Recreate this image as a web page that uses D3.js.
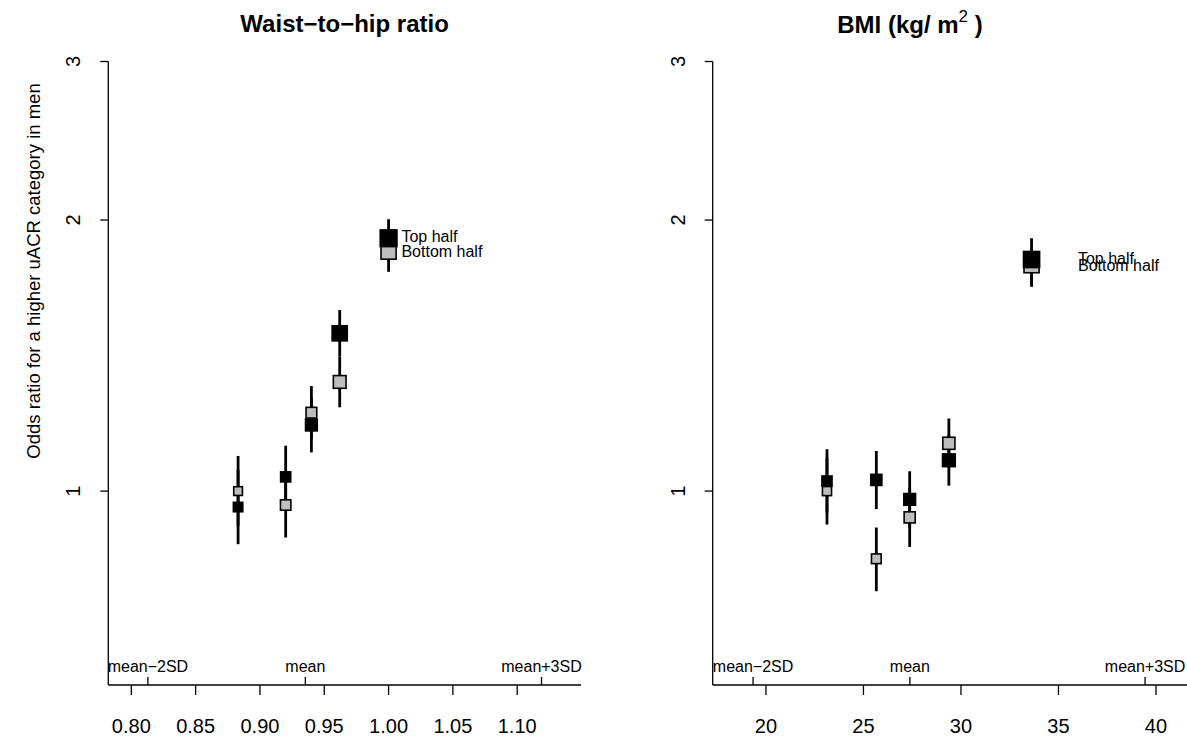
<!DOCTYPE html>
<html>
<head>
<meta charset="utf-8">
<script src="https://cdn.jsdelivr.net/npm/d3@7"></script>
<style>
  body { margin: 0; background: #fff; }
  svg { font-family: "Liberation Sans", Arial, Helvetica, sans-serif; }
</style>
</head>
<body>
<div id="chart"></div>
<script>
// ---- data ----
// waist-to-hip ratio panel
const waistX = [0.883, 0.920, 0.940, 0.962, 1.000];
const waistTopOR = [0.960, 1.037, 1.184, 1.497, 1.909];
const waistTopLo = [0.873, 0.958, 1.104, 1.410, 1.820];
const waistTopHi = [1.056, 1.123, 1.270, 1.589, 2.004];
const waistTopW  = [1.10, 1.17, 1.33, 1.67, 1.83];
const waistBotOR = [1.000, 0.965, 1.222, 1.322, 1.845];
const waistBotLo = [0.914, 0.888, 1.142, 1.239, 1.752];
const waistBotHi = [1.094, 1.048, 1.308, 1.410, 1.925];
const waistBotW  = [1.03, 1.20, 1.23, 1.43, 1.67];
const waistTicks = [0.80, 0.85, 0.90, 0.95, 1.00, 1.05, 1.10];
const waistMean = 0.9353, waistSD = 0.0612;

// BMI panel
const bmiX = [23.13, 25.66, 27.37, 29.38, 33.62];
const bmiTopOR = [1.026, 1.029, 0.979, 1.082, 1.808];
const bmiTopLo = [0.946, 0.955, 0.911, 1.014, 1.693];
const bmiTopHi = [1.113, 1.108, 1.052, 1.155, 1.909];
const bmiTopW  = [1.17, 1.27, 1.33, 1.43, 1.77];
const bmiBotOR = [1.000, 0.841, 0.935, 1.130, 1.782];
const bmiBotLo = [0.918, 0.774, 0.867, 1.061, 1.686];
const bmiBotHi = [1.090, 0.911, 1.008, 1.204, 1.837];
const bmiBotW  = [1.07, 1.13, 1.27, 1.37, 1.67];
const bmiTicks = [20, 25, 30, 35, 40];
const bmiMean = 27.38, bmiSD = 4.02;

const yTicks = [1, 2, 3];
const sdMarks = [-2, 0, 3];
const sdNames = ["mean\u22122SD", "mean", "mean+3SD"];
const seriesNames = ["Top half", "Bottom half"];

// ---- layout ----
const W = 1187, H = 740;
const svg = d3.select("#chart").append("svg")
  .attr("width", W).attr("height", H);

const axisY = 685;
const y = d3.scaleLog().domain([0.609, 3.19]).range([axisY, 37.5]);
const size = d3.scaleLinear().domain([0, 1]).range([0, 10]);

const panels = [
  { title: "Waist\u2212to\u2212hip ratio", titleX: 344.6, left: 108.3, right: 581,
    domain: [0.7821, 1.1496], ticks: waistTicks, fmt: d3.format(".2f"),
    mean: waistMean, sd: waistSD, labelAt: 1.010,
    xs: waistX,
    top: { or: waistTopOR, lo: waistTopLo, hi: waistTopHi, w: waistTopW },
    bot: { or: waistBotOR, lo: waistBotLo, hi: waistBotHi, w: waistBotW } },
  { title: null, titleX: 910, left: 712.7, right: 1187,
    domain: [17.27, 41.59], ticks: bmiTicks, fmt: d3.format("d"),
    mean: bmiMean, sd: bmiSD, labelAt: 36.0,
    xs: bmiX,
    top: { or: bmiTopOR, lo: bmiTopLo, hi: bmiTopHi, w: bmiTopW },
    bot: { or: bmiBotOR, lo: bmiBotLo, hi: bmiBotHi, w: bmiBotW } }
];

panels.forEach(function(p, pi) {
  const x = d3.scaleLinear().domain(p.domain).range([p.left, p.right]);
  const g = svg.append("g");

  // title
  if (p.title) {
    g.append("text")
      .attr("x", p.titleX).attr("y", 32)
      .attr("text-anchor", "middle")
      .style("font-size", "24px").style("font-weight", "bold")
      .text(p.title);
  } else {
    const t = g.append("text")
      .attr("x", p.titleX).attr("y", 33)
      .attr("text-anchor", "middle")
      .style("font-size", "24px").style("font-weight", "bold");
    t.append("tspan").text("BMI (kg/ m");
    t.append("tspan").attr("dy", -11).style("font-size", "17px").style("font-weight", "normal").text("2");
    t.append("tspan").attr("dy", 11).text(" )");
  }

  // y axis (line from the top tick down to the x axis)
  g.append("line")
    .attr("x1", p.left).attr("x2", p.left)
    .attr("y1", y(3)).attr("y2", axisY)
    .attr("stroke", "#000").attr("stroke-width", 1.3);
  g.selectAll(".ytick").data(yTicks).join("line")
    .attr("x1", p.left - 8).attr("x2", p.left)
    .attr("y1", d => y(d)).attr("y2", d => y(d))
    .attr("stroke", "#000").attr("stroke-width", 1.3);
  g.selectAll(".ylab").data(yTicks).join("text")
    .attr("transform", d => "translate(" + (p.left - 28) + "," + y(d) + ") rotate(-90)")
    .attr("text-anchor", "middle")
    .style("font-size", "20px")
    .text(d => d);

  // x axis
  g.append("line")
    .attr("x1", p.left).attr("x2", p.right)
    .attr("y1", axisY).attr("y2", axisY)
    .attr("stroke", "#000").attr("stroke-width", 1.3);
  g.selectAll(".xtick").data(p.ticks).join("line")
    .attr("x1", d => x(d)).attr("x2", d => x(d))
    .attr("y1", axisY).attr("y2", axisY + 10)
    .attr("stroke", "#000").attr("stroke-width", 1.3);
  g.selectAll(".xlab").data(p.ticks).join("text")
    .attr("x", d => x(d)).attr("y", 733)
    .attr("text-anchor", "middle")
    .style("font-size", "20px")
    .text(d => p.fmt(d));

  // mean / SD marks above the axis
  g.selectAll(".sdtick").data(sdMarks).join("line")
    .attr("x1", d => x(p.mean + d * p.sd)).attr("x2", d => x(p.mean + d * p.sd))
    .attr("y1", axisY).attr("y2", axisY - 8)
    .attr("stroke", "#000").attr("stroke-width", 1.3);
  g.selectAll(".sdlab").data(sdMarks).join("text")
    .attr("x", d => x(p.mean + d * p.sd)).attr("y", 672)
    .attr("text-anchor", "middle")
    .style("font-size", "16px")
    .text((d, i) => sdNames[i]);

  // confidence intervals
  [p.top, p.bot].forEach(function(s) {
    g.selectAll(null).data(p.xs).join("line")
      .attr("x1", d => x(d)).attr("x2", d => x(d))
      .attr("y1", (d, i) => y(s.lo[i])).attr("y2", (d, i) => y(s.hi[i]))
      .attr("stroke", "#000").attr("stroke-width", 2.8);
  });

  // bottom half: grey squares with border
  g.selectAll(".bot").data(p.xs).join("rect")
    .attr("x", (d, i) => x(d) - size(p.bot.w[i]) / 2 + 0.8)
    .attr("y", (d, i) => y(p.bot.or[i]) - size(p.bot.w[i]) / 2 + 0.8)
    .attr("width", (d, i) => size(p.bot.w[i]) - 1.6)
    .attr("height", (d, i) => size(p.bot.w[i]) - 1.6)
    .attr("fill", "#bebebe").attr("stroke", "#000").attr("stroke-width", 1.6);

  // top half: black squares
  g.selectAll(".top").data(p.xs).join("rect")
    .attr("x", (d, i) => x(d) - size(p.top.w[i]) / 2)
    .attr("y", (d, i) => y(p.top.or[i]) - size(p.top.w[i]) / 2)
    .attr("width", (d, i) => size(p.top.w[i]))
    .attr("height", (d, i) => size(p.top.w[i]))
    .attr("fill", "#000");

  // labels next to the last group
  const last = p.xs.length - 1;
  const labY = [y(p.top.or[last]) - 1.5, y(p.bot.or[last])];
  g.selectAll(".lab").data(seriesNames).join("text")
    .attr("x", x(p.labelAt))
    .attr("y", (d, i) => labY[i])
    .attr("dy", "0.35em")
    .style("font-size", "16px")
    .text(d => d);
});

// y axis title
svg.append("text")
  .attr("transform", "translate(40,271) rotate(-90)")
  .attr("text-anchor", "middle")
  .style("font-size", "18.5px")
  .text("Odds ratio for a higher uACR category in men");
</script>
</body>
</html>
